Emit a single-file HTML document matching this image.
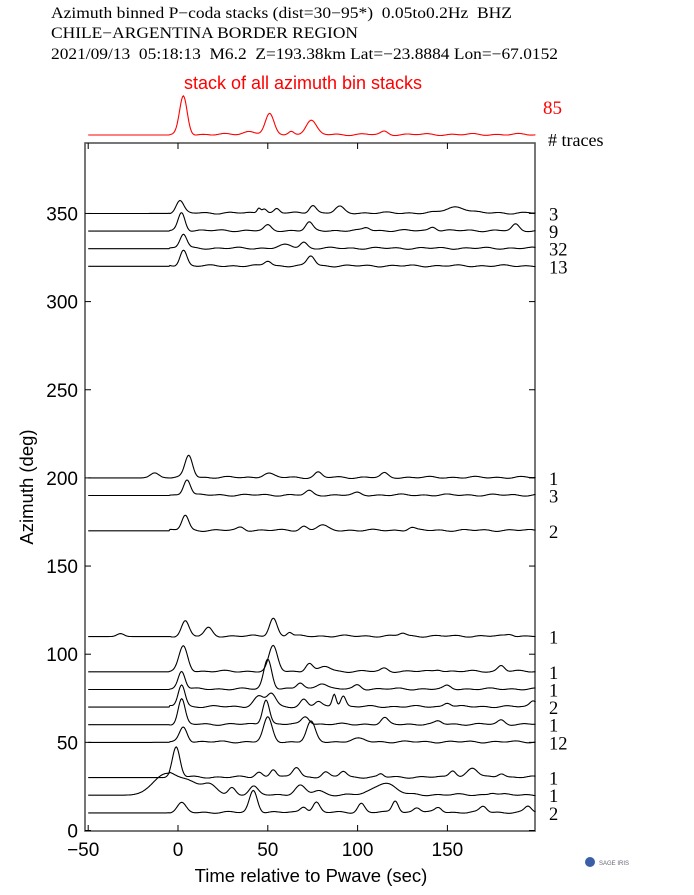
<!DOCTYPE html>
<html><head><meta charset="utf-8"><style>
body{margin:0;background:#fff;}
svg{display:block;}
.s{font-family:"Liberation Serif",serif;white-space:pre;}
.a{font-family:"Liberation Sans",sans-serif;}
</style></head><body>
<svg id="g" width="694" height="895" xmlns="http://www.w3.org/2000/svg">
<text class="s" x="51" y="18" font-size="15.5" textLength="461" lengthAdjust="spacingAndGlyphs">Azimuth binned P−coda stacks (dist=30−95*)  0.05to0.2Hz  BHZ</text>
<text class="s" x="51" y="38" font-size="15.5" textLength="307" lengthAdjust="spacingAndGlyphs">CHILE−ARGENTINA BORDER REGION</text>
<text class="s" x="51" y="59" font-size="15.5" textLength="507" lengthAdjust="spacingAndGlyphs">2021/09/13  05:18:13  M6.2  Z=193.38km Lat=−23.8884 Lon=−67.0152</text>
<text class="a" x="303" y="89" font-size="18" fill="#f00" text-anchor="middle">stack of all azimuth bin stacks</text>
<text class="s" x="543" y="114" font-size="19" fill="#f00">85</text>
<text class="s" x="548" y="146" font-size="18"># traces</text>
<rect x="85" y="143" width="450" height="688" fill="none" stroke="#555" stroke-width="1.6"/>
<g id="ax" class="a" font-size="19"></g>
<text class="a" x="311" y="882" font-size="18.5" text-anchor="middle">Time relative to Pwave (sec)</text>
<text class="a" font-size="18.5" text-anchor="middle" transform="translate(33,487) rotate(-90)">Azimuth (deg)</text>
<g id="tr" fill="none" stroke="#000" stroke-width="1.1"></g>
<circle cx="590" cy="862" r="5" fill="#3a5fa8"/>
<text class="a" x="599" y="865" font-size="6" fill="#667">SAGE IRIS</text>
</svg>
<script>
var NS="http://www.w3.org/2000/svg";
function X(t){return 178+(t)*1.796;}
function Y(a){return 830.5-a*1.763;}
var ax=document.getElementById('ax'),tr=document.getElementById('tr');
function el(n,at,p,txt){var e=document.createElementNS(NS,n);for(var k in at)e.setAttribute(k,at[k]);if(txt!=null)e.textContent=txt;p.appendChild(e);return e;}
[-50,0,50,100,150].forEach(function(t){var x=X(t);
el('line',{x1:x,x2:x,y1:143,y2:149,stroke:'#000'},ax);
el('line',{x1:x,x2:x,y1:831,y2:825,stroke:'#000'},ax);
el('text',{x:x-(t<0?5:0),y:856,'text-anchor':'middle'},ax,t<0?'−50':String(t));});
[0,50,100,150,200,250,300,350].forEach(function(a){var y=Y(a);
el('line',{x1:85,x2:91,y1:y,y2:y,stroke:'#000'},ax);
el('line',{x1:535,x2:529,y1:y,y2:y,stroke:'#000'},ax);
el('text',{x:78,y:y+7,'text-anchor':'end'},ax,String(a));});
function path(base,peaks,seed,col,t0,t1){var d='';for(var t=t0;t<=t1;t+=0.5){var v=0;
peaks.forEach(function(p){var z=(t-p[0])/(p[2]*1.35);v+=p[1]*Math.exp(-z*z);});
if(t>-5)v+=0.6*Math.sin(t*0.5+seed)+0.5*Math.sin(t*0.23+seed*2)+0.5;
d+=(d?'L':'M')+X(t).toFixed(1)+' '+(base-v).toFixed(1);}
var e=el('path',{d:d},tr);if(col)e.setAttribute('stroke',col);}
path(135,[[3,38,2.2],[51,20,2.5],[74,14,3],[63,3,1.5],[115,3,2],[40,3,4]],1,'#f00',-50,199);
var T=[
[350,'3',[[1,12,2.2],[45,5,1],[48,5,1.5],[55,4,1.5],[75,8,2],[90,6,2.5],[155,6,6]]],
[340,'9',[[2,18,2],[50,5,2],[73,8,2],[105,3,2],[142,4,2],[188,6,2]]],
[330,'32',[[3,14,2],[60,3,4],[70,6,2]]],
[320,'13',[[3,16,2],[50,5,2],[74,10,2.2]]],
[200,'1',[[-13,5,2.5],[6,22,2.2],[50,4,3],[78,5,2],[115,4,2]]],
[190,'3',[[5,16,2],[73,4,2],[100,2,2]]],
[170,'2',[[4,15,2],[35,3,2],[70,4,2],[80,5,3],[130,3,2]]],
[110,'1',[[-32,3,2],[4,15,2.2],[17,8,2.2],[53,18,2.2],[62,4,1.5],[125,3,2],[185,2,2]]],
[90,'1',[[3,25,2.5],[53,25,2.5],[73,8,2],[82,5,3],[115,3,2],[145,2,2],[180,6,2]]],
[80,'1',[[2,18,2],[50,30,2.3],[68,6,2],[80,6,3],[100,4,2],[150,3,2]]],
[70,'2',[[2,22,2],[45,10,3],[52,13,2.5],[70,7,2],[78,5,2],[87,13,1.2],[92,11,1.5],[150,4,2],[198,6,2]]],
[60,'1',[[2,25,2],[49,25,2],[71,8,2.2],[115,6,2],[145,3,2],[180,4,2]]],
[50,'12',[[3,15,2.2],[50,24,2.5],[74,20,2.5],[100,3,4]]],
[30,'1',[[-1,30,2.2],[45,5,2],[53,8,1.8],[66,10,2.2],[82,5,2],[92,6,2],[113,3,1.5],[153,7,2],[164,9,3],[180,4,2]]],
[20,'1',[[-8,17,7],[5,13,9],[18,6,4],[30,7,2],[42,8,2.5],[68,9,3],[78,4,3],[115,12,6],[175,2,2]]],
[10,'2',[[2,9,2.5],[42,22,2.3],[70,6,2],[77,10,2],[102,9,2],[121,12,1.8],[133,5,2],[145,5,2],[170,6,2],[195,6,2]]]];
T.forEach(function(r,i){path(Y(r[0]),r[2],i*1.7,null,-50,199);
el('text',{x:549,y:Y(r[0])+7,'font-size':'18.5','class':'s',fill:'#000',stroke:'none'},document.getElementById('g'),r[1]);});
</script>
</body></html>
